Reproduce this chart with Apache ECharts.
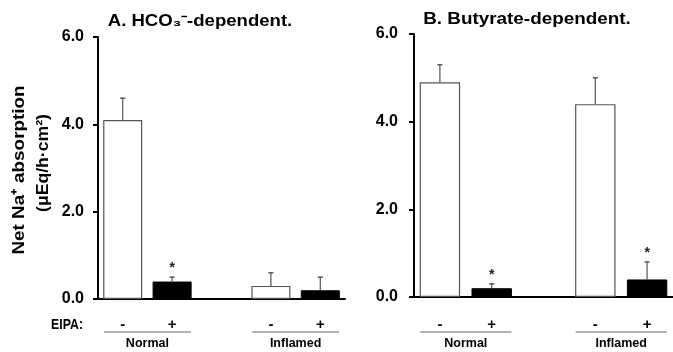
<!DOCTYPE html>
<html><head><meta charset="utf-8">
<script src="https://cdn.jsdelivr.net/npm/echarts@6/dist/echarts.min.js"></script>
<style>html,body{margin:0;padding:0;background:#fff}#c{width:673px;height:352px}</style>
</head><body><div id="c"></div>
<script>
const categories = ['-', '+', '', '-', '+'];
const groupLabels = ['Normal', 'Inflamed'];
const yTicks = [0, 2, 4, 6];
const titleA = 'A. HCO\u2083\u207B-dependent.';
const titleB = 'B. Butyrate-dependent.';
const yName1 = 'Net Na\u207A absorption';
const yName2 = '(\u03BCEq/h\u00B7cm\u00B2)';
const rowLabel = 'EIPA:';
const valuesA = [4.1, 0.4, null, 0.3, 0.2];
const errorsA = [0.5, 0.1, null, 0.3, 0.3];
const starsA = [false, true, false, false, false];
const valuesB = [4.9, 0.2, null, 4.4, 0.4];
const errorsB = [0.4, 0.1, null, 0.6, 0.4];
const starsB = [false, true, false, false, true];
const fills = ['open', 'filled', null, 'open', 'filled'];

const FONT = 'Arial, "Liberation Sans", sans-serif';
const chart = echarts.init(document.getElementById('c'));

function barData(vals) {
  return vals.map((v, i) => v == null ? null : {
    value: v,
    itemStyle: fills[i] === 'filled'
      ? { color: '#000', borderColor: '#000', borderWidth: 1 }
      : { color: '#fff', borderColor: '#555', borderWidth: 1.2 }
  });
}
function errData(vals, errs, stars) {
  return vals.map((v, i) => v == null ? [i, 0, 0, 0] : [i, v, errs[i], stars[i] ? 1 : 0]);
}
function renderErr(params, api) {
  const v = api.value(1), e = api.value(2);
  if (!v && !e) return null;
  const x = api.value(0);
  const base = api.coord([x, v]);
  const top = api.coord([x, v + e]);
  const children = [
    { type: 'line', shape: { x1: base[0], y1: base[1], x2: top[0], y2: top[1] }, style: { stroke: '#555', lineWidth: 1.2 } },
    { type: 'line', shape: { x1: top[0] - 2.5, y1: top[1], x2: top[0] + 2.5, y2: top[1] }, style: { stroke: '#555', lineWidth: 1.5 } }
  ];
  if (api.value(3)) {
    children.push({ type: 'text', style: { text: '*', x: top[0], y: top[1] - 16, align: 'center', verticalAlign: 'top', font: 'bold 14px ' + FONT, fill: '#222' } });
  }
  return { type: 'group', children };
}

function yAxisOf(gi, margin) {
  return {
    gridIndex: gi, type: 'value', min: 0, max: 6, interval: 2,
    splitLine: { show: false },
    axisLine: { show: true, lineStyle: { color: '#000', width: 2 } },
    axisTick: { show: true, length: 5, lineStyle: { color: '#000', width: 2 } },
    axisLabel: { formatter: v => yTicks.includes(v) ? v.toFixed(1) : '', color: '#000', fontSize: 16, fontWeight: 'bold', fontFamily: FONT, margin: margin }
  };
}
function xAxisOf(gi, margin) {
  return {
    gridIndex: gi, type: 'category', data: categories,
    axisLine: { show: true, lineStyle: { color: '#000', width: 2 } },
    axisTick: { show: false },
    axisLabel: { color: '#000', fontSize: 15, fontWeight: 'bold', fontFamily: FONT, margin: margin, interval: 0 }
  };
}

chart.setOption({
  animation: false,
  backgroundColor: '#fff',
  grid: [
    { left: 98, top: 37, width: 247, height: 262 },
    { left: 414, top: 34, width: 264, height: 263 }
  ],
  xAxis: [xAxisOf(0, 18), xAxisOf(1, 20)],
  yAxis: [yAxisOf(0, 14), yAxisOf(1, 16)],
  series: [
    { type: 'bar', xAxisIndex: 0, yAxisIndex: 0, data: barData(valuesA), barWidth: '79%' },
    { type: 'custom', xAxisIndex: 0, yAxisIndex: 0, data: errData(valuesA, errorsA, starsA), renderItem: renderErr, z: 5 },
    { type: 'bar', xAxisIndex: 1, yAxisIndex: 1, data: barData(valuesB), barWidth: '78%' },
    { type: 'custom', xAxisIndex: 1, yAxisIndex: 1, data: errData(valuesB, errorsB, starsB), renderItem: renderErr, z: 5 }
  ]
});

const graphics = [];
function txt(text, x, y, size, opts) {
  opts = opts || {};
  return {
    type: 'text', x: x, y: y, rotation: opts.rotation || 0, scaleX: opts.scaleX || 1,
    style: { text: text, x: 0, y: 0, align: opts.align || 'center', verticalAlign: opts.va || 'middle', font: 'bold ' + size + 'px ' + FONT, fill: '#000' }
  };
}
// titles
graphics.push(txt(titleA, 200, 22, 16, { scaleX: 1.16 }));
graphics.push(txt(titleB, 527, 20, 16, { scaleX: 1.18 }));
// y-axis title (two lines, rotated)
graphics.push(txt(yName1, 19, 170, 17, { rotation: Math.PI / 2, scaleX: 1.11 }));
graphics.push(txt(yName2, 44, 163, 16, { rotation: Math.PI / 2, scaleX: 1.1 }));

const leftBase = chart.convertToPixel({ xAxisIndex: 0, yAxisIndex: 0 }, [0, 0]);
const yLine = leftBase[1] + 33;
[0, 1].forEach(gi => {
  const p0 = chart.convertToPixel({ xAxisIndex: gi, yAxisIndex: gi }, [0, 0]);
  const p1 = chart.convertToPixel({ xAxisIndex: gi, yAxisIndex: gi }, [1, 0]);
  const p3 = chart.convertToPixel({ xAxisIndex: gi, yAxisIndex: gi }, [3, 0]);
  const p4 = chart.convertToPixel({ xAxisIndex: gi, yAxisIndex: gi }, [4, 0]);
  const band = p1[0] - p0[0];
  const half = band * 0.38;
  [[p0, p1, groupLabels[0]], [p3, p4, groupLabels[1]]].forEach(([a, b, lab]) => {
    graphics.push({ type: 'line', shape: { x1: a[0] - half, y1: yLine, x2: b[0] + half, y2: yLine }, style: { stroke: '#666', lineWidth: 1 } });
    graphics.push(txt(lab, (a[0] + b[0]) / 2, yLine + 5, 12.5, { va: 'top' }));
  });
});
graphics.push(txt(rowLabel, 83, leftBase[1] + 26, 14.5, { align: 'right', scaleX: 0.85 }));
chart.setOption({ graphic: graphics });
</script>
</body></html>
